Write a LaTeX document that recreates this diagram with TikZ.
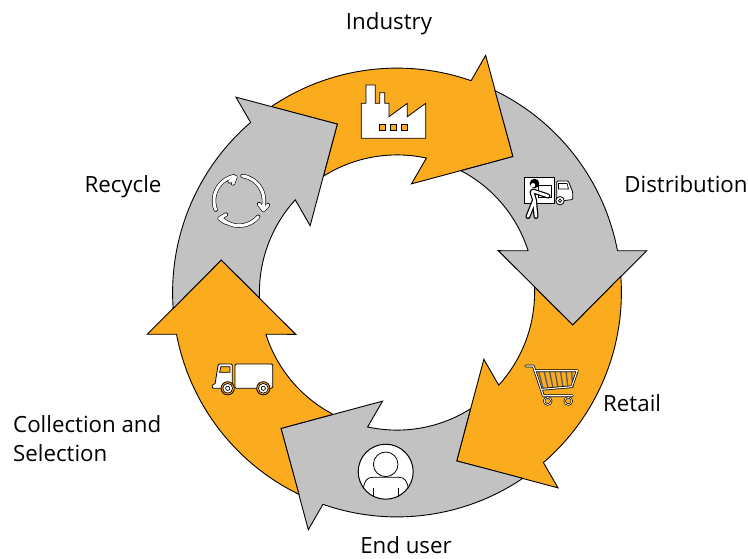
\documentclass[tikz,border=0pt]{standalone}
\usepackage{fontspec}
\usetikzlibrary{calc}
\setmainfont{Open Sans}
\definecolor{ringorange}{HTML}{FAAB1E}
\definecolor{ringgray}{HTML}{C2C2C2}
\definecolor{slatgray}{HTML}{5A5A5A}
\tikzset{
  ringarrow/.style={draw=black,line width=0.9pt,line join=miter,fill=#1},
  label/.style={font=\fontsize{22.3pt}{29pt}\selectfont,text=black,inner sep=0pt},
  iconline/.style={draw=black,line width=0.8pt,fill=white,line join=miter},
  inkstroke/.style={draw=black,line width=2.6pt,line cap=round,line join=round},
  paperstroke/.style={draw=white,line width=1.1pt,line cap=round,line join=round},
  cycleout/.style={draw=black,line width=4.2pt,line cap=round,line join=round},
  cyclein/.style={draw=white,line width=3pt,line cap=round,line join=round}
}
\newcommand{\RingR}{224.4}
\newcommand{\Ringr}{137.6}
\begin{document}
\begin{tikzpicture}[x=1pt,y=-1pt]
\useasboundingbox (0,0) rectangle (748,558);
\coordinate (C) at (397,292.5);
% six ring arrows, each a 60 degree turn of the last
\foreach \t/\col in {-60/ringorange,0/ringgray,60/ringorange,120/ringgray,180/ringorange,240/ringgray}{
  \draw[ringarrow=\col]
    ($(C)+({\t-64.1}:\RingR)$) arc[start angle={\t-64.1},end angle={\t-10.72},radius=\RingR]
    -- ($(C)+({\t-9.5}:253.2)$)
    -- ($(C)+({\t+10.48}:178.7)$)
    -- ($(C)+({\t-22.43}:109.6)$)
    -- ($(C)+({\t-17.66}:\Ringr)$) arc[start angle={\t-17.66},end angle={\t-62.3},radius=\Ringr]
    -- ($(C)+({\t-49.52}:178.7)$) -- cycle;
}
% factory
\draw[iconline] (361.3,138.3) -- (425.7,138.3) -- (425.7,103.3) -- (407.3,116.7) -- (407.3,103.3) -- (389,116.7) -- (389,103.3) -- (384.7,103.3) -- (384.7,92.7) -- (379.7,92.7) -- (379.7,103.3) -- (375.3,103.3) -- (375.3,85) -- (366,85) -- (366,103.3) -- (361.3,103.3) -- cycle;
\foreach \wx in {379.3,390.3,401.3}{
  \draw[draw=black,line width=0.6pt,fill=ringorange] (\wx,124.3) rectangle ++(6.4,6.4);
}
% delivery van and courier
\draw[iconline,line width=0.9pt] (524,177.7) rectangle (554.3,203.3);
\draw[iconline,rounded corners=1pt] (556.7,181) -- (568.3,181) -- (572.7,192) -- (572.7,199.5) -- (556.7,201.5) -- cycle;
\draw[iconline,line width=0.7pt] (558.5,183.5) -- (567,183.5) -- (568.5,189) -- (558.5,189) -- cycle;
\draw[iconline] (560,200.7) circle (4.2);
\draw[draw=black,line width=0.7pt] (560,200.7) circle (1.6);
\draw[iconline,line width=0.8pt] (538.5,185.5) rectangle (551.5,197);
\draw[draw=black,line width=5pt,line cap=round,line join=round] (532,192) -- (534.5,200) -- (528,216.5) (534.5,200) -- (536,216.5) (533,191) -- (548,196);
\draw[draw=white,line width=2.6pt,line cap=round,line join=round] (532,192) -- (534.5,200) -- (528,216.5) (534.5,200) -- (536,216.5) (533,191) -- (548,196);
\fill[black] (534.5,183.5) circle (4.8);
\fill[white] (533,185.2) circle (2.2);
% shopping cart
\foreach \a/\b in {538.5/543,544/548,549.5/553,555/558,560.5/563,566/568,571.5/573}{
  \draw[draw=slatgray,line width=1.3pt] (\a,371) -- (\b,388);
}
\draw[inkstroke] (525.7,366) -- (533.3,366) -- (543.3,395.7) -- (572.3,395.7);
\draw[inkstroke] (535,370.7) -- (577.3,370.7) -- (571.7,386.7) -- (541.7,389.3);
\draw[paperstroke] (525.7,366) -- (533.3,366) -- (543.3,395.7) -- (572.3,395.7);
\draw[paperstroke] (535,370.7) -- (577.3,370.7) -- (571.7,386.7) -- (541.7,389.3);
\foreach \wx in {547.7,568.3}{
  \draw[draw=black,line width=2pt] (\wx,401) circle (3.6);
  \draw[draw=white,line width=0.7pt] (\wx,401) circle (3.6);
}
% end user
\draw[iconline,line width=1pt] (385.7,471.7) circle (27.5);
\draw[draw=black,line width=0.8pt] (385.7,464.3) circle (12.3);
\draw[draw=black,line width=0.8pt] (363.3,488.3) .. controls (364.5,481) and (367,477.3) .. (372.5,477.3) -- (399,477.3) .. controls (404.5,477.3) and (407,481) .. (408.3,488.3);
\draw[draw=black,line width=1.3pt] (373.3,488.3) -- (373.3,497) (398.3,488.3) -- (398.3,497);
% box truck
\draw[iconline,rounded corners=1.2pt] (235,364) rectangle (272.7,388.3);
\draw[iconline,rounded corners=1pt] (212.3,388.3) -- (212.3,384.3) -- (215,384.3) -- (218.3,364) -- (232.3,364) -- (232.3,388.3) -- cycle;
\draw[draw=black,line width=0.7pt,fill=ringorange] (220.9,366.7) -- (230,366.7) -- (230,372.3) -- (219.6,372.3) -- cycle;
\foreach \wx in {227.7,263.3}{
  \draw[draw=black,line width=0.8pt,fill=ringorange] (\wx,388.3) circle (6.6);
  \draw[draw=black,line width=0.7pt,fill=white] (\wx,388.3) circle (4.9);
  \draw[draw=black,line width=0.7pt,fill=white] (\wx,388.3) circle (2.1);
}
% recycle arrows
\coordinate (R) at (239,200.7);
\foreach \st in {cycleout,cyclein}{
  \draw[\st] ($(R)+(158.8:25)$) arc[start angle=158.8,end angle=258,radius=25];
  \draw[\st] (229.5,181.5) -- (235.5,176.7) -- (233,183.5);
  \draw[\st] ($(R)+(278:25)$) arc[start angle=278,end angle=378,radius=25];
  \draw[\st] (259,204) -- (263.5,210) -- (268,205);
  \draw[\st] ($(R)+(39.7:25)$) arc[start angle=39.7,end angle=135,radius=25];
  \draw[\st] (226,214.5) -- (219.5,218.5) -- (225.5,222.5);
}
% labels
\node[label,anchor=base] (industry) at (389,29) {Industry};
\node[label,anchor=base] (distribution) at (686,192) {Distribution};
\node[label,anchor=base west] (retail) at (603,411) {Retail};
\node[label,anchor=base] (enduser) at (406,553) {End user};
\node[label,anchor=base west] (collection) at (13,432) {Collection and};
\node[label,anchor=base west] (selection) at (13,461) {Selection};
\node[label,anchor=base] (recycle) at (123,192) {Recycle};
\end{tikzpicture}
\end{document}
